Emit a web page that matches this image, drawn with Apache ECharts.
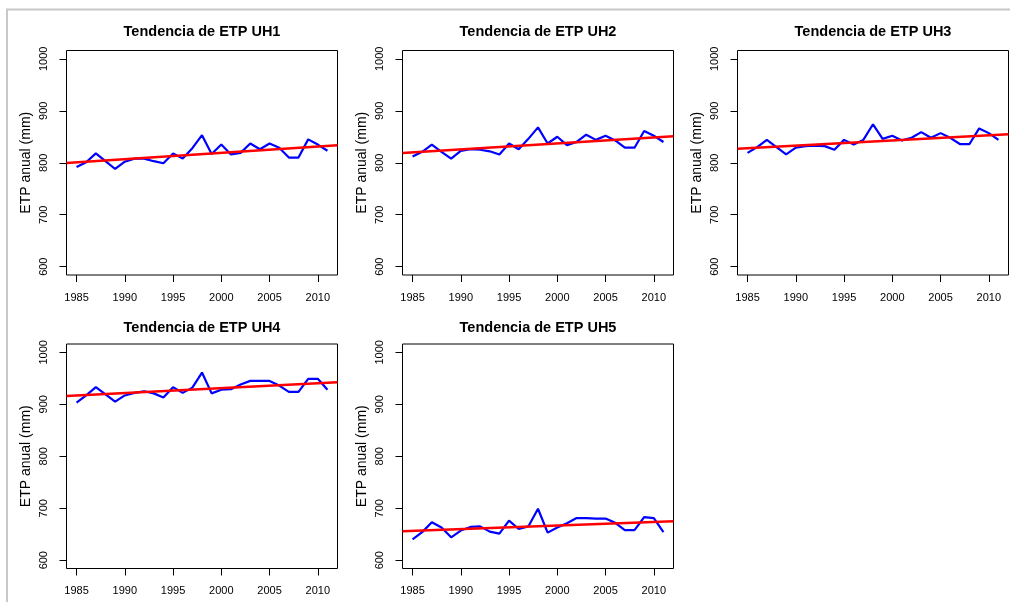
<!DOCTYPE html>
<html>
<head>
<meta charset="utf-8">
<script src="https://cdn.jsdelivr.net/npm/echarts@6/dist/echarts.min.js"></script>
<style>
html,body{margin:0;padding:0;background:#fff;}
#main{width:1010px;height:602px;}
</style>
</head>
<body>
<div id="main"></div>
<script>
// ---- data ----
const years = [1985,1986,1987,1988,1989,1990,1991,1992,1993,1994,1995,1996,1997,1998,1999,2000,2001,2002,2003,2004,2005,2006,2007,2008,2009,2010,2011];
const uh1 = [792,801,818,803,788,802,808,808,803,799,818,808,828,853,817,835,816,819,837,826,837,829,810,810,845,835,823];
const uh2 = [812,821,835,821,808,823,826,825,822,816,837,826,846,868,837,850,834,840,854,844,852,843,829,829,861,852,840];
const uh3 = [819,830,844,830,816,829,832,833,832,825,844,835,844,874,846,852,843,848,859,848,857,848,836,836,866,857,844];
const uh4 = [903,917,933,919,905,917,922,925,921,913,933,922,932,961,921,928,929,938,945,945,945,936,924,924,949,949,928];
const uh5 = [640,654,673,663,644,657,664,665,655,651,676,660,665,699,653,663,671,681,681,680,680,672,658,658,683,681,654];
const panelTitles = ["Tendencia de ETP UH1","Tendencia de ETP UH2","Tendencia de ETP UH3","Tendencia de ETP UH4","Tendencia de ETP UH5"];
// trend line (fitted) values at the left and right plot edges
const trendYears = [1983.96, 2012.04];
const trendStart = [799.4, 818.7, 827.0, 916.0, 655.8];
const trendEnd   = [833.5, 851.0, 855.0, 942.2, 675.0];
const xTicks = [1985,1990,1995,2000,2005,2010];
const yTicks = [600,700,800,900,1000];
const yAxisTitle = "ETP anual (mm)";

const seriesData = [uh1, uh2, uh3, uh4, uh5];

// ---- layout ----
const colLeft = [66.5, 402.5, 737.5];
const rowTop = [50.5, 344];
const titleTop = [24, 320];
const W = 271, H = 224.5;
const FONT = "'Liberation Sans', Arial, sans-serif";

const grids = [], xAxes = [], yAxes = [], series = [], titles = [];
seriesData.forEach((vals, i) => {
  const r = Math.floor(i / 3), c = i % 3;
  const left = colLeft[c], top = rowTop[r];
  grids.push({left: left, top: top, width: W, height: H, show: true,
    borderColor: '#000', borderWidth: 1, backgroundColor: '#fff', containLabel: false});
  xAxes.push({type: 'value', gridIndex: i, min: 1983.96, max: 2012.04,
    splitLine: {show: false},
    axisLine: {show: false},
    axisTick: {show: true, inside: false, length: 7, customValues: xTicks, lineStyle: {color: '#000', width: 1}},
    axisLabel: {show: true, customValues: xTicks, margin: 17, color: '#000', fontSize: 11, fontFamily: FONT,
      formatter: v => String(v)}
  });
  yAxes.push({type: 'value', gridIndex: i, min: 584, max: 1016,
    splitLine: {show: false},
    axisLine: {show: false},
    axisTick: {show: true, inside: false, length: 7, customValues: yTicks, lineStyle: {color: '#000', width: 1}},
    axisLabel: {show: true, customValues: yTicks, rotate: 90, margin: 17, color: '#000', fontSize: 11, fontFamily: FONT,
      formatter: v => String(v)},
    name: yAxisTitle, nameLocation: 'middle', nameRotate: 90, nameGap: 33,
    nameTextStyle: {color: '#000', fontSize: 14, fontFamily: FONT}
  });
  series.push({type: 'line', xAxisIndex: i, yAxisIndex: i,
    data: years.map((y, k) => [y, vals[k]]),
    showSymbol: false, symbol: 'none', smooth: false, animation: false,
    lineStyle: {color: '#0000ff', width: 2.2}, z: 2});
  series.push({type: 'line', xAxisIndex: i, yAxisIndex: i,
    data: [[trendYears[0], trendStart[i]], [trendYears[1], trendEnd[i]]],
    showSymbol: false, symbol: 'none', animation: false,
    lineStyle: {color: '#ff0000', width: 2.5}, z: 3});
  titles.push({text: panelTitles[i], left: left + W / 2, top: titleTop[r], textAlign: 'center',
    textStyle: {fontSize: 14.5, fontWeight: 'bold', color: '#000', fontFamily: FONT}, padding: 0});
});

const chart = echarts.init(document.getElementById('main'), null, {renderer: 'canvas'});
chart.setOption({
  animation: false,
  backgroundColor: '#fff',
  title: titles,
  grid: grids,
  xAxis: xAxes,
  yAxis: yAxes,
  series: series,
  graphic: [
    {type: 'line', shape: {x1: 6, y1: 9.5, x2: 1010, y2: 9.5}, style: {stroke: '#c8c8c8', lineWidth: 2}, silent: true},
    {type: 'line', shape: {x1: 7, y1: 9, x2: 7, y2: 602}, style: {stroke: '#c8c8c8', lineWidth: 2}, silent: true}
  ]
});
</script>
</body>
</html>
